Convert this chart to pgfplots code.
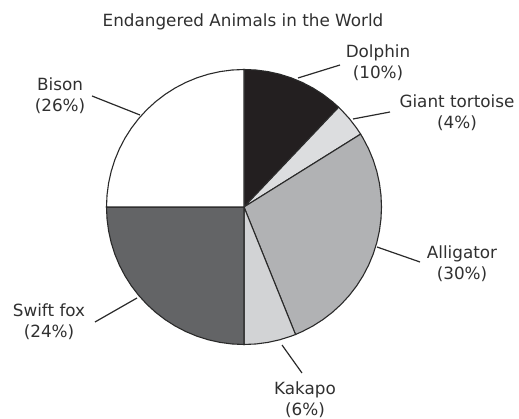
\documentclass[border=0pt]{standalone}
\usepackage{pgfplots}
\pgfplotsset{compat=1.18}
\usepgfplotslibrary{polar}
\usepackage{fontspec}
\setmainfont{DejaVu Sans}
\definecolor{txt}{HTML}{303030}
\definecolor{edge}{HTML}{2A2A2A}
\definecolor{cDolphin}{HTML}{231F20}
\definecolor{cTortoise}{HTML}{DCDDDF}
\definecolor{cAlligator}{HTML}{B1B2B4}
\definecolor{cKakapo}{HTML}{D2D3D5}
\definecolor{cFox}{HTML}{636466}
\definecolor{cBison}{HTML}{FFFFFF}
\tikzset{lbl/.style={font=\fontsize{16.8bp}{21bp}\selectfont, text=txt, align=center, inner sep=0pt}}
\begin{document}
\begin{tikzpicture}
\useasboundingbox (0,0) rectangle (519bp,419bp);
\begin{axis}[at={(0,0)}, anchor=south west, scale only axis,
  width=519bp, height=419bp,
  xmin=-244, xmax=275, ymin=-212, ymax=207,
  hide axis, clip=false]
% slices: (angle in degrees, radius)
\addplot[fill=cDolphin, draw=edge, line width=1.1bp, data cs=polar] coordinates {
 (0,0) (46.5,137.5) (50,137.5) (55,137.5) (60,137.5) (65,137.5) (70,137.5) (75,137.5) (80,137.5) (85,137.5) (90,137.5)} -- cycle;
\addplot[fill=cTortoise, draw=edge, line width=1.1bp, data cs=polar] coordinates {
 (0,0) (32,137.5) (35,137.5) (40,137.5) (45,137.5) (46.5,137.5)} -- cycle;
\addplot[fill=cAlligator, draw=edge, line width=1.1bp, data cs=polar] coordinates {
 (0,0) (-68,137.5) (-65,137.5) (-60,137.5) (-55,137.5) (-50,137.5) (-45,137.5) (-40,137.5) (-35,137.5) (-30,137.5) (-25,137.5) (-20,137.5) (-15,137.5) (-10,137.5) (-5,137.5) (0,137.5) (5,137.5) (10,137.5) (15,137.5) (20,137.5) (25,137.5) (30,137.5) (32,137.5)} -- cycle;
\addplot[fill=cKakapo, draw=edge, line width=1.1bp, data cs=polar] coordinates {
 (0,0) (-90,137.5) (-85,137.5) (-80,137.5) (-75,137.5) (-70,137.5) (-68,137.5)} -- cycle;
\addplot[fill=cFox, draw=edge, line width=1.1bp, data cs=polar] coordinates {
 (0,0) (180,137.5) (185,137.5) (190,137.5) (195,137.5) (200,137.5) (205,137.5) (210,137.5) (215,137.5) (220,137.5) (225,137.5) (230,137.5) (235,137.5) (240,137.5) (245,137.5) (250,137.5) (255,137.5) (260,137.5) (265,137.5) (270,137.5)} -- cycle;
\addplot[fill=cBison, draw=edge, line width=1.1bp, data cs=polar] coordinates {
 (0,0) (90,137.5) (95,137.5) (100,137.5) (105,137.5) (110,137.5) (115,137.5) (120,137.5) (125,137.5) (130,137.5) (135,137.5) (140,137.5) (145,137.5) (150,137.5) (155,137.5) (160,137.5) (165,137.5) (170,137.5) (175,137.5) (180,137.5)} -- cycle;
% leader lines
\addplot[edge, line width=1.2bp] coordinates {(54,129) (96,142)};
\addplot[edge, line width=1.2bp] coordinates {(109,88) (146,95)};
\addplot[edge, line width=1.2bp] coordinates {(133,-40) (176,-55)};
\addplot[edge, line width=1.2bp] coordinates {(38,-138) (58,-166)};
\addplot[edge, line width=1.2bp] coordinates {(-107,-91) (-149,-115)};
\addplot[edge, line width=1.2bp] coordinates {(-104,92) (-152,111)};
% labels
\node[lbl] at (axis cs:-1,185) {Endangered Animals in the World};
\node[lbl] at (axis cs:134,144) {Dolphin\\(10\%)};
\node[lbl] at (axis cs:213,94) {Giant tortoise\\(4\%)};
\node[lbl] at (axis cs:218,-57) {Alligator\\(30\%)};
\node[lbl] at (axis cs:61,-192.5) {Kakapo\\(6\%)};
\node[lbl] at (axis cs:-195,-115) {Swift fox\\(24\%)};
\node[lbl] at (axis cs:-184,111) {Bison\\(26\%)};
\end{axis}
\end{tikzpicture}
\end{document}
